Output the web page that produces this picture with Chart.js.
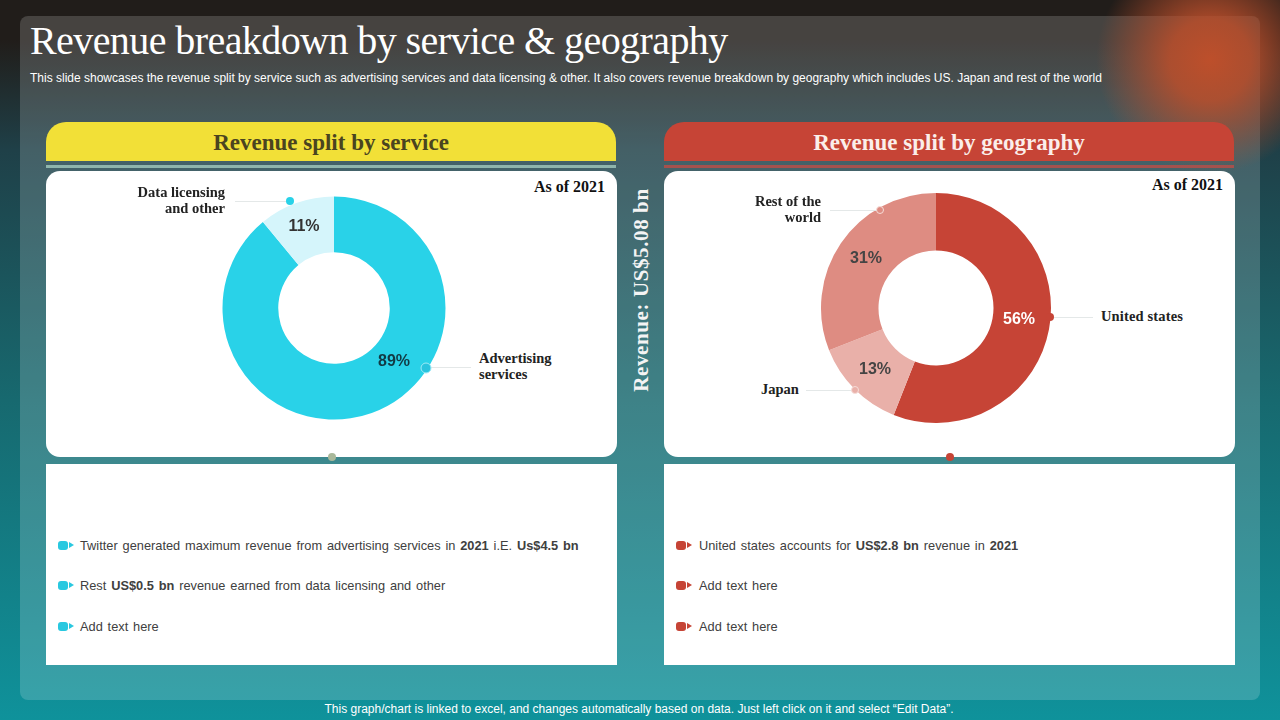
<!DOCTYPE html>
<html lang="en">
<head>
<meta charset="UTF-8">
<title>Revenue breakdown by service &amp; geography</title>
<script src="https://cdn.jsdelivr.net/npm/chart.js"></script>
<style>
html, body { margin: 0; padding: 0; }
body { width: 1280px; height: 720px; overflow: hidden; position: relative; font-family: "Liberation Sans", Arial, sans-serif;
  background: linear-gradient(180deg, #211d1a 0, #211d1a 40px, #1f4048 150px, #17696f 400px, #0f929b 720px); }
.glow { position: absolute; left: 1095px; top: -55px; width: 230px; height: 230px; background: radial-gradient(circle, #bd4f2b 0, rgba(189,79,43,.85) 25%, rgba(189,79,43,0) 70%); }
.panel { position: absolute; left: 20px; top: 16px; width: 1240px; height: 684px; border-radius: 8px; background: rgba(255,255,255,.17); }
.abs { position: absolute; white-space: nowrap; }
.serif { font-family: "Liberation Serif", serif; }
h1 { margin: 0; font-weight: normal; color: #fff; font-size: 40px; line-height: 48px; left: 30px; top: 17px; letter-spacing: -.58px; }
.sub { left: 30px; top: 71px; color: #fff; font-size: 12px; line-height: 14px; }
.head { position: absolute; top: 122px; width: 570px; height: 39px; border-radius: 20px 20px 0 0; text-align: center; font: bold 23px/41px "Liberation Serif", serif; }
.rule { position: absolute; top: 165px; width: 570px; height: 3px; }
.card { position: absolute; top: 171px; width: 571px; height: 286px; background: #fff; border-radius: 14px; }
.lower { position: absolute; top: 464px; width: 571px; height: 201px; background: #fff; }
canvas { position: absolute; }
.lbl { color: #222; font: bold 14.5px/16px "Liberation Serif", serif; }
.pct { font: bold 16px/18px "Liberation Sans", sans-serif; transform: translate(-50%, -50%); }
.asof { color: #111; font: bold 16px/18px "Liberation Serif", serif; }
.lead { position: absolute; height: 1px; background: #e4e8e8; }
.dot { position: absolute; border-radius: 50%; transform: translate(-50%, -50%); }
.rev { left: 641px; top: 290px; color: #f4f4f4; font: bold 21px/24px "Liberation Serif", serif; letter-spacing: .6px; transform: translate(-50%, -50%) rotate(-90deg); }
.item { color: #404040; font-size: 12.8px; line-height: 15px; word-spacing: 1.3px; }
.bul { position: absolute; width: 10px; height: 9px; border-radius: 3px; }
.tri { position: absolute; width: 0; height: 0; border-left: 5px solid; border-top: 3.5px solid transparent; border-bottom: 3.5px solid transparent; }
.foot { left: 0; width: 1278px; text-align: center; top: 702px; color: #fff; font-size: 12px; line-height: 14px; }
</style>
</head>
<body>
<div class="panel"></div>
<div class="glow"></div>
<h1 class="abs serif" id="title">Revenue breakdown by service &amp; geography</h1>
<div class="abs sub">This slide showcases the revenue split by service such as advertising services and data licensing &amp; other. It also covers revenue breakdown by geography which includes US. Japan and rest of the world</div>

<div class="head" style="left:46px;background:#f2e037;color:#4a4420">Revenue split by service</div>
<div class="rule" style="left:46px;background:#8fb5ac"></div>
<div class="card" style="left:46px"></div>
<div class="lower" style="left:46px"></div>

<div class="head" style="left:664px;background:#c64436;color:#fbeeea">Revenue split by geography</div>
<div class="rule" style="left:664px;background:#a5514d"></div>
<div class="card" style="left:664px"></div>
<div class="lower" style="left:664px"></div>

<canvas id="serviceChart" style="left:213.5px;top:187.5px"></canvas>
<canvas id="geoChart" style="left:815.5px;top:187.5px"></canvas>

<div class="abs asof" style="left:534px;top:178px">As of 2021</div>
<div class="abs asof" style="left:1152px;top:176px">As of 2021</div>

<div class="abs lbl" style="right:1055px;top:184px;text-align:right">Data licensing<br>and other</div>
<div class="lead" style="left:235px;top:201px;width:54px"></div>
<div class="dot" style="left:290px;top:201px;width:8px;height:8px;background:#29d2e8"></div>
<div class="abs lbl" style="left:479px;top:350px">Advertising<br>services</div>
<div class="lead" style="left:430px;top:367px;width:41px"></div>
<div class="dot" style="left:426px;top:367.5px;width:9px;height:9px;background:#29c4de;border:1px solid #9ee9f5"></div>

<div class="abs lbl" style="right:459px;top:193px;text-align:right">Rest of the<br>world</div>
<div class="lead" style="left:830px;top:210px;width:47px"></div>
<div class="dot" style="left:880px;top:210px;width:6px;height:6px;background:#de8c82;border:1px solid #f6dcd8"></div>
<div class="abs lbl" style="left:1101px;top:308px;letter-spacing:.15px">United states</div>
<div class="lead" style="left:1053px;top:317px;width:40px"></div>
<div class="dot" style="left:1050px;top:317px;width:8px;height:8px;background:#c64436"></div>
<div class="abs lbl" style="left:761px;top:381px">Japan</div>
<div class="lead" style="left:806px;top:390px;width:46px"></div>
<div class="dot" style="left:855px;top:390px;width:6px;height:6px;background:#e9b0a9;border:1px solid #f6dcd8"></div>

<div class="dot" style="left:331.5px;top:457px;width:8px;height:8px;background:#a9b89a"></div>
<div class="dot" style="left:950px;top:457px;width:8px;height:8px;background:#c64436"></div>

<div class="abs rev">Revenue: US$5.08 bn</div>

<div id="bullets"></div>
<div class="abs foot">This graph/chart is linked to excel, and changes automatically based on data. Just left click on it and select “Edit Data”.</div>

<script>
// chart data
const serviceCategories = ['Advertising services', 'Data licensing and other'];
const serviceValues = [89, 11];
const geoCategories = ['United states', 'Japan', 'Rest of the world'];
const geoValues = [56, 13, 31];

const serviceColors = ['#29d2e8', '#d5f5fb'];
const geoColors = ['#c64436', '#e9b0a9', '#de8c82'];

// where the % labels sit on the slide
const servicePctPos = [[394, 361, '#123a44'], [304, 226, '#333']];
const geoPctPos = [[1019, 319, '#fff'], [875, 368.5, '#444'], [866, 257.5, '#444']];

function doughnut(id, labels, values, colors, radius, size) {
    const canvas = document.getElementById(id);
    canvas.width = size;
    canvas.height = size;
    return new Chart(canvas, {
        type: 'doughnut',
        data: { labels: labels, datasets: [{ data: values, backgroundColor: colors, borderWidth: 0 }] },
        options: {
            responsive: false,
            animation: false,
            radius: radius,
            cutout: '50%',
            plugins: { legend: { display: false }, tooltip: { enabled: false } }
        }
    });
}

doughnut('serviceChart', serviceCategories, serviceValues, serviceColors, 111.5, 240);
doughnut('geoChart', geoCategories, geoValues, geoColors, 115, 240);

function pctLabels(values, pos) {
    values.forEach(function(v, i) {
        const el = document.createElement('div');
        el.className = 'abs pct';
        el.style.left = pos[i][0] + 'px';
        el.style.top = pos[i][1] + 'px';
        el.style.color = pos[i][2];
        el.textContent = v + '%';
        document.body.appendChild(el);
    });
}
pctLabels(serviceValues, servicePctPos);
pctLabels(geoValues, geoPctPos);

// bullet rows under the charts
const rows = [
    [58, '#29c8e0', 'Twitter generated maximum revenue from advertising services in <b>2021</b> i.E. <b>Us$4.5 bn</b>', 541],
    [58, '#29c8e0', 'Rest <b>US$0.5 bn</b> revenue earned from data licensing and other', 581],
    [58, '#29c8e0', 'Add text here', 622],
    [676, '#c64436', 'United states accounts for <b>US$2.8 bn</b> revenue in <b>2021</b>', 541],
    [676, '#c64436', 'Add text here', 581],
    [676, '#c64436', 'Add text here', 622]
];
const box = document.getElementById('bullets');
rows.forEach(function(r) {
    box.insertAdjacentHTML('beforeend',
        '<div class="bul" style="left:' + r[0] + 'px;top:' + r[3] + 'px;background:' + r[1] + '"></div>' +
        '<div class="tri" style="left:' + (r[0] + 11) + 'px;top:' + (r[3] + 1) + 'px;border-left-color:' + r[1] + '"></div>' +
        '<div class="abs item" style="left:' + (r[0] + 22 + (r[0] > 100 ? 1 : 0)) + 'px;top:' + (r[3] - 3) + 'px">' + r[2] + '</div>');
});
</script>
</body>
</html>
